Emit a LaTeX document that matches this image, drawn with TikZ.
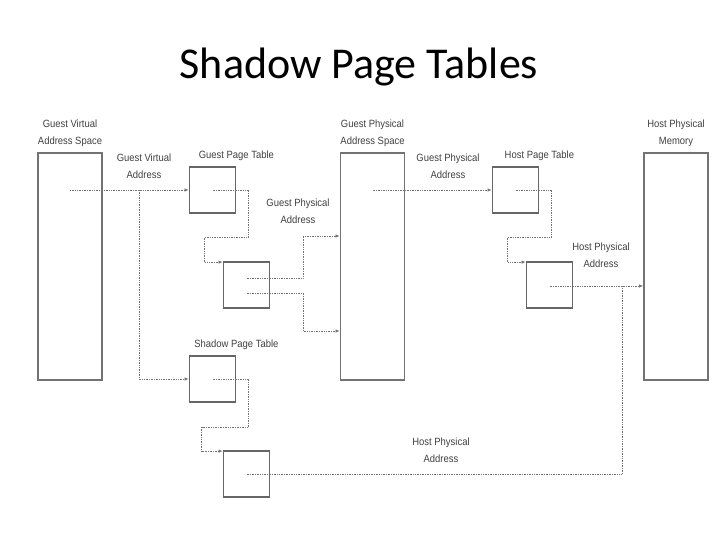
\documentclass[tikz,border=0pt]{standalone}
\usepackage{fontspec}
\setmainfont{Carlito}
\newfontfamily\labelfont[FakeStretch=0.9]{Liberation Sans}
\usepackage{tikz}
\usetikzlibrary{arrows.meta,positioning}

\begin{document}
\begin{tikzpicture}[
        x=1pt, y=-1pt,
        space/.style={rectangle, draw=black!55, line width=1.8pt, minimum width=64pt, minimum height=227pt},
        table/.style={rectangle, draw=black!60, line width=1.8pt, minimum size=46pt},
        label/.style={font=\labelfont\fontsize{10.5}{17}\selectfont, text=black!75, align=center, inner sep=1pt},
        link/.style={densely dotted, draw=black!55, line width=0.7pt},
        arrow/.style={link, -{Latex[length=4pt,width=3.5pt]}}
    ]
        \useasboundingbox (0,0) rectangle (720,540);

        % Title
        \node[font=\fontsize{44}{50}\selectfont] (title) at (359,67) {Shadow Page Tables};

        % Address spaces
        \node[space] (gvas) at (70,266.5) {};
        \node[space] (gpas) at (372.5,266.5) {};
        \node[space] (hpm) at (676,266.5) {};

        % Tables
        \node[table] (gpt1) at (212.5,190) {};
        \node[table] (gpt2) at (246.5,285) {};
        \node[table] (spt1) at (212.5,379) {};
        \node[table] (spt2) at (246.5,474) {};
        \node[table] (hpt1) at (515.5,190) {};
        \node[table] (hpt2) at (549.5,285) {};

        % Labels
        \node[label, above=4pt of gvas] (gvasl) {Guest Virtual\\Address Space};
        \node[label, above=4pt of gpas] (gpasl) {Guest Physical\\Address Space};
        \node[label, above=4pt of hpm] (hpml) {Host Physical\\Memory};
        \node[label, above=4pt of gpt1.north east] (gptl) {Guest Page Table};
        \node[label, above=4pt of hpt1.north east] (hptl) {Host Page Table};
        \node[label, above=4pt of spt1.north east] (sptl) {Shadow Page Table};
        \node[label] (gval) at (144,166) {Guest Virtual\\Address};
        \node[label] (gpal1) at (298,211) {Guest Physical\\Address};
        \node[label] (gpal2) at (448,166) {Guest Physical\\Address};
        \node[label] (hpal1) at (601,255) {Host Physical\\Address};
        \node[label] (hpal2) at (441,450) {Host Physical\\Address};

        % Bend points
        \coordinate (gva) at (139,190);
        \coordinate (gpa1) at (303,236);
        \coordinate (gpa2) at (303,331);
        \coordinate (hpa) at (622,286);

        % Connections
        \draw[arrow] (gvas |- gpt1) -- (gpt1.west);
        \draw[arrow] (gva) |- (spt1.west);
        \draw[arrow] (gpt1.center) -- ++(36,0) |- ++(-44,47) |- ([yshift=-1pt]gpt2.north west);
        \draw[arrow] ([yshift=7pt]gpt2.center) -| (gpa1) -- (gpa1 -| gpas.west);
        \draw[arrow] ([yshift=-8pt]gpt2.center) -| (gpa2) -- (gpa2 -| gpas.west);
        \draw[arrow] (spt1.center) -- ++(36,0) |- ++(-47,48) |- ([yshift=-1pt]spt2.north west);
        \draw[arrow] (gpas |- hpt1) -- (hpt1.west);
        \draw[arrow] (hpt1.center) -- ++(36,0) |- ++(-44,47) |- ([yshift=-1pt]hpt2.north west);
        \draw[arrow] (hpt2.center |- hpa) -- (hpa -| hpm.west);
        \draw[link] (spt2.center) -| (hpa);

    \end{tikzpicture}
\end{document}
